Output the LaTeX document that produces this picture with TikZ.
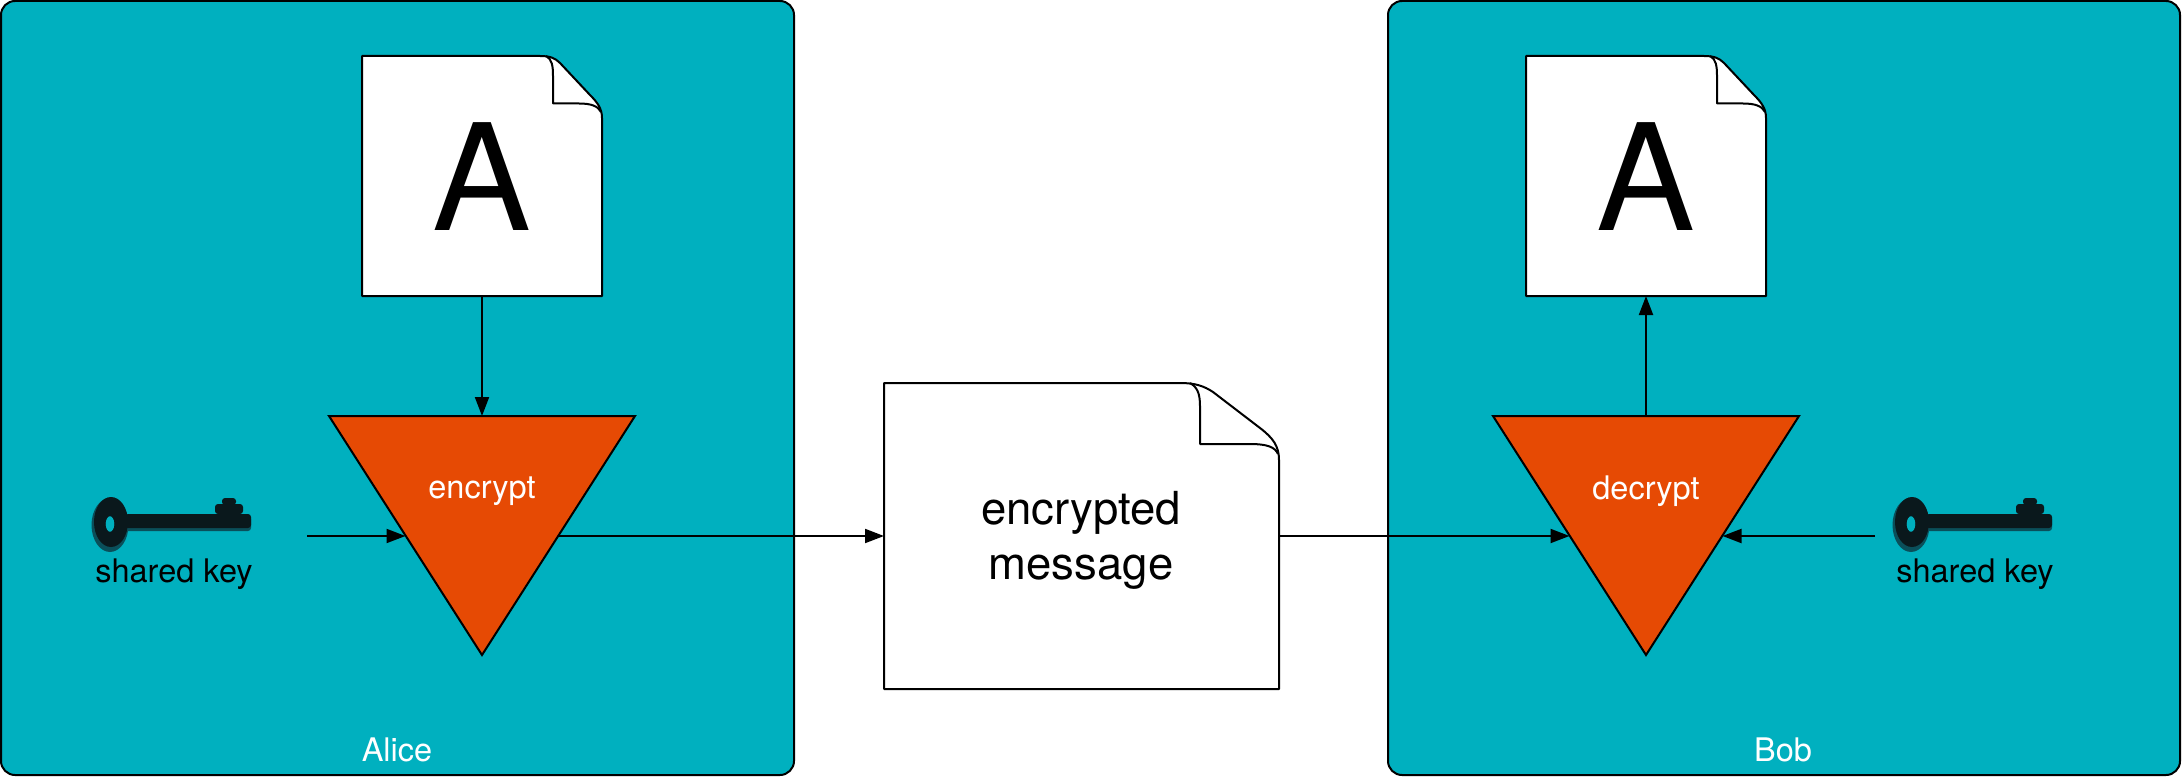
\documentclass[tikz,border=0pt]{standalone}
\usepackage{fontspec}
\setmainfont{TeX Gyre Heros}
\usetikzlibrary{shapes.geometric,arrows.meta}
\definecolor{boxteal}{HTML}{00B0BF}
\definecolor{triorange}{HTML}{E64A04}
\definecolor{keydark}{HTML}{0A181C}
\definecolor{keyshadow}{HTML}{0A4F5A}
\tikzset{
  party/.style={line width=2pt,draw=black,fill=boxteal,rounded corners=14pt},
  sheet/.style={line width=2pt,draw=black,fill=white,line join=round},
  fold/.style={line width=2pt,draw=black,line join=round},
  doctext/.style={inner sep=0pt,outer sep=0pt,font=\fontsize{45.5}{54}\selectfont,align=center},
  bigA/.style={inner sep=0pt,outer sep=0pt,font=\fontsize{148}{148}\selectfont},
  cipher/.style={isosceles triangle,isosceles triangle stretches,shape border rotate=270,
    minimum width=306pt,minimum height=239pt,inner sep=0pt,outer sep=0pt,
    line width=2pt,draw=black,fill=triorange,anchor=apex,line join=miter},
  white label/.style={text=white,inner sep=0pt,font=\fontsize{32.5}{38}\selectfont},
  keylabel/.style={text=black,inner sep=0pt,font=\fontsize{32.5}{38}\selectfont},
  conn/.style={line width=2pt,draw=black,-{Triangle[length=19pt,width=14pt]}},
}
\newcommand{\smalldoc}[2]{%
  \begin{scope}[shift={(#1,#2)}]
    \draw[sheet] (0,0) -- (178,0) .. controls (188,0) and (193,2) .. (198,7)
      -- (228,39) .. controls (236,47) and (240,53) .. (240,62) -- (240,240) -- (0,240) -- cycle;
    \draw[fold] (184,0) .. controls (190,3) and (191,10) .. (191,20) -- (191,47.5)
      -- (217,47.5) .. controls (229,47.5) and (236,50) .. (239,56);
  \end{scope}}
\newcommand{\keyicon}[2]{%
  \begin{scope}[shift={(#1,#2)}]
    \fill[keyshadow,even odd rule] (110,525) ellipse (18.5 and 27) (110,524) ellipse (4.5 and 8);
    \fill[keyshadow,rounded corners=3pt] (125,516) rectangle (251,531);
    \fill[keydark,even odd rule] (111,522) ellipse (17 and 25) (110,524) ellipse (4.5 and 8);
    \fill[keydark,rounded corners=3pt] (125,514) rectangle (251,528);
    \fill[keydark,rounded corners=3pt] (215,504) rectangle (243,514);
    \fill[keydark,rounded corners=3pt] (222,498) rectangle (236,505);
  \end{scope}}
\begin{document}
\begin{tikzpicture}[x=1pt,y=-1pt]
\useasboundingbox (0,0) rectangle (2182,778);
\fill[white] (0,0) rectangle (2182,778);
% party panels
\node[party,minimum width=793pt,minimum height=774pt,inner sep=0pt,outer sep=0pt,anchor=north west] (alice) at (1,1) {};
\node[party,minimum width=792pt,minimum height=774pt,inner sep=0pt,outer sep=0pt,anchor=north west] (bob) at (1388,1) {};
\node[white label] (alicelabel) at (397,750) {Alice};
\node[white label] (boblabel) at (1783,750) {Bob};
% plain documents
\smalldoc{362}{56}
\smalldoc{1526}{56}
\node[bigA] (docA) at (482,177) {A};
\node[bigA] (docB) at (1646,177) {A};
\coordinate (docAbottom) at (482,296);
\coordinate (docBbottom) at (1646,296);
% ciphertext
\draw[sheet] (884,383) -- (1180,383) .. controls (1195,383) and (1204,386) .. (1213,392)
  -- (1260,428) .. controls (1273,438) and (1279,446) .. (1279,460) -- (1279,689) -- (884,689) -- cycle;
\draw[fold] (1190,383) .. controls (1197,387) and (1200,393) .. (1200,406) -- (1200,444)
  -- (1250,444) .. controls (1267,444) and (1275,447) .. (1278,454);
\node[doctext] (msg) at (1081,540) {encrypted\\[1pt]message};
\coordinate (msgleft) at (884,536);
\coordinate (msgright) at (1279,536);
% ciphers
\node[cipher] (enc) at (482,655) {};
\node[cipher] (dec) at (1646,655) {};
\node[white label] (enclabel) at (482,491) {encrypt};
\node[white label] (declabel) at (1646,491) {decrypt};
% keys
\keyicon{0}{0}
\keyicon{1801}{0}
\node[keylabel] (keyA) at (174,574) {shared key};
\node[keylabel] (keyB) at (1975,574) {shared key};
\coordinate (keyAout) at (307,536);
\coordinate (keyBout) at (1875,536);
% connectors
\draw[conn] (docAbottom) -- (enc.center |- 0,416);
\draw[conn] (dec.center |- 0,416) -- (docBbottom);
\draw[conn] (keyAout) -- (enc.right side |- keyAout);
\draw[conn] (enc.left side |- msgleft) -- (msgleft);
\draw[conn] (msgright) -- (dec.right side |- msgright);
\draw[conn] (keyBout) -- (dec.left side |- keyBout);
\end{tikzpicture}
\end{document}
